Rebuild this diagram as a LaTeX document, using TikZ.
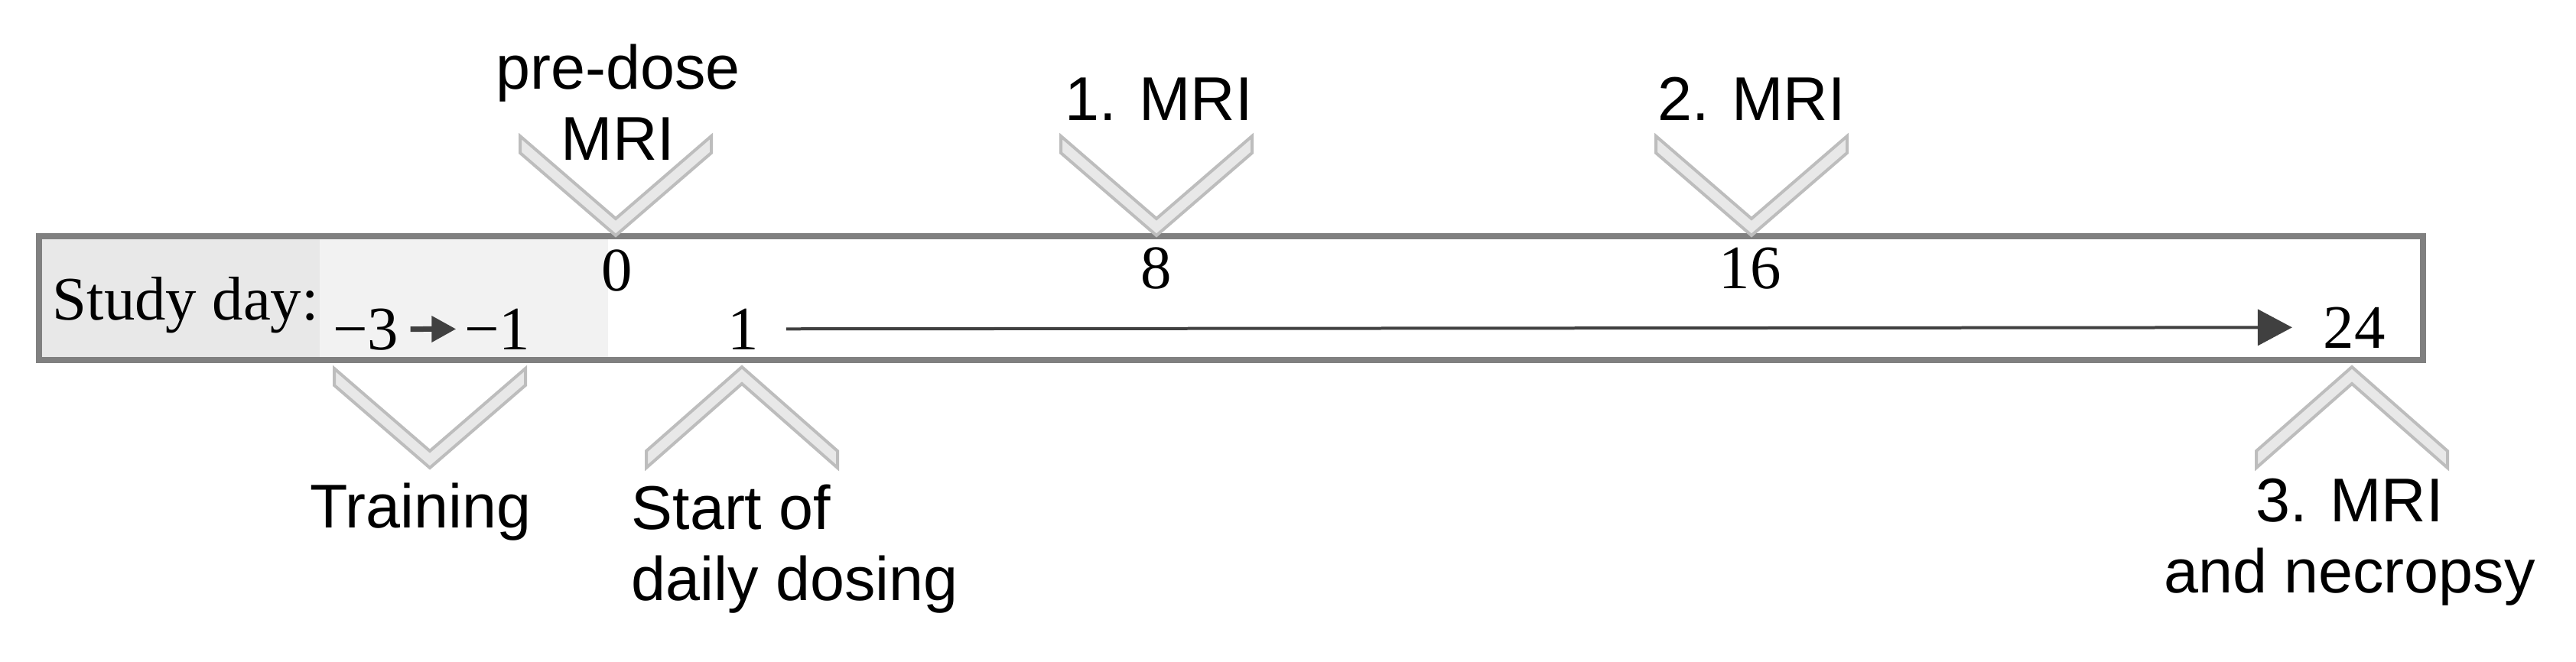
\documentclass[tikz,border=0pt]{standalone}
\usepackage{fontspec}
\setmainfont{Liberation Serif}
\setsansfont{Liberation Sans}
\usetikzlibrary{arrows.meta,positioning}

\tikzset{
    daynum/.style={inner sep=0pt, font=\fontsize{23}{28}\selectfont},
    evlabel/.style={inner sep=0pt, font=\sffamily\fontsize{23}{26.5}\selectfont, align=center},
    chev/.style={draw=black!26, fill=black!9, line width=0.04cm},
    vdown/.pic={\draw[chev] (-1.25,1.30) -- (0,0.22) -- (1.25,1.30) -- (1.25,1.08) -- (0,0) -- (-1.25,1.08) -- cycle;},
    vup/.pic={\draw[chev] (-1.25,-1.32) -- (0,-0.22) -- (1.25,-1.32) -- (1.25,-1.10) -- (0,0) -- (-1.25,-1.10) -- cycle;},
}

\begin{document}
\begin{tikzpicture}
    \useasboundingbox (0,0) rectangle (33.68,-8.66);

    % Day strip
    \fill[black!9] (0.51,-3.09) rectangle (4.18,-4.71);
    \fill[black!5] (4.18,-3.09) rectangle (7.95,-4.71);
    \draw[black!50, line width=0.08cm] (0.51,-3.09) rectangle (31.68,-4.71);

    % Days
    \node[daynum, anchor=base west] (studyday) at (0.68,-4.18) {Study day:};
    \node[daynum, anchor=base] (dm3) at (4.78,-4.57) {−3};
    \node[daynum, anchor=base] (dm1) at (6.50,-4.57) {−1};
    \node[daynum, anchor=base] (d0) at (8.07,-3.80) {0};
    \node[daynum, anchor=base] (d1) at (9.72,-4.57) {1};
    \node[daynum, anchor=base] (d8) at (15.12,-3.77) {8};
    \node[daynum, anchor=base] (d16) at (22.88,-3.77) {16};
    \node[daynum, anchor=base] (d24) at (30.78,-4.55) {24};

    \draw[black!75, line width=0.07cm, -{Triangle[length=0.32cm,width=0.33cm]},
        shorten <=0.15cm, shorten >=0.1cm] (dm3) -- (dm1);
    \draw[black!75, line width=0.04cm, -{Triangle[length=0.45cm,width=0.47cm]},
        shorten <=0.35cm, shorten >=0.40cm] (d1) -- (d24);

    % Markers above
    \pic at (8.05,-3.08) {vdown};
    \pic at (15.12,-3.08) {vdown};
    \pic at (22.90,-3.08) {vdown};
    \node[evlabel, anchor=south] (predose) at (8.08,-2.10) {pre-dose\\MRI};
    \node[evlabel, anchor=south] (mri1) at (15.15,-1.58) {1. MRI};
    \node[evlabel, anchor=south] (mri2) at (22.90,-1.58) {2. MRI};

    % Markers below
    \pic at (5.62,-6.12) {vdown};
    \pic at (9.70,-4.80) {vup};
    \pic at (30.75,-4.80) {vup};
    \node[evlabel, anchor=base] (training) at (5.50,-6.90) {Training};
    \node[evlabel, anchor=north west, align=left] (dosing) at (8.25,-6.33) {Start of\\daily dosing};
    \node[evlabel, anchor=north] (necropsy) at (30.72,-6.25) {3. MRI\\and necropsy};
\end{tikzpicture}
\end{document}
